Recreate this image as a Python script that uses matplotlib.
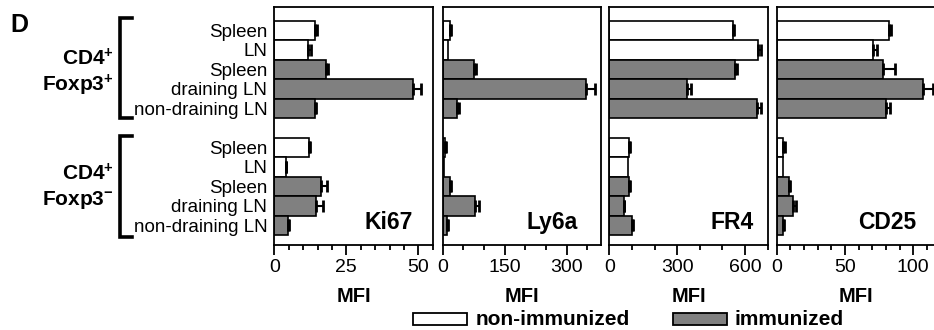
import numpy as np
import matplotlib
matplotlib.use("Agg")
import matplotlib.pyplot as plt
from matplotlib.transforms import blended_transform_factory
from matplotlib.lines import Line2D
from matplotlib.patches import Rectangle

plt.rcParams['font.family'] = ['Liberation Sans', 'DejaVu Sans']
plt.rcParams['mathtext.fontset'] = 'custom'
plt.rcParams['mathtext.rm'] = 'Liberation Sans'
plt.rcParams['mathtext.bf'] = 'Liberation Sans:bold'

# ---- data ----
row_labels = ["Spleen", "LN", "Spleen", "draining LN", "non-draining LN"]
immunized_flag = [False, False, True, True, True]
groups = ["Foxp3+", "Foxp3-"]
markers = ["Ki67", "Ly6a", "FR4", "CD25"]

ki67 = [14.2, 11.6, 17.8, 48.0, 14.1, 11.9, 3.9, 16.3, 14.5, 4.8]
ki67_err = [0.7, 1.0, 0.9, 2.8, 0.5, 0.5, 0.3, 2.1, 2.3, 0.4]
ly6a = [17.7, 12.0, 75, 347, 34.6, 5.0, 3.0, 17.7, 78, 9.7]
ly6a_err = [3, 0, 6, 22, 5, 2, 0, 3, 10, 2]
fr4 = [545, 659, 557, 345, 654, 87, 84, 87, 64, 99]
fr4_err = [7, 12, 9, 15, 17, 6, 0, 4, 3, 6]
cd25 = [82.1, 70.2, 77.8, 107.5, 79.7, 4.6, 4.6, 9.0, 11.7, 4.8]
cd25_err = [1.5, 3.4, 8.8, 6.6, 3.2, 1.7, 0, 1.0, 2.4, 0.6]

values = [ki67, ly6a, fr4, cd25]
errors = [ki67_err, ly6a_err, fr4_err, cd25_err]
xmax = [55, 383, 700, 116]
major_ticks = [[0, 25, 50], [0, 150, 300], [0, 300, 600], [0, 50, 100]]
minor_step = [5, 50, 100, 10]
label_xfrac = [0.725, 0.688, 0.773, 0.70]

GRAY = "#808080"
W, H = 934, 330
fig = plt.figure(figsize=(W / 100, H / 100), dpi=100)

# positions (rows with a gap between groups)
n = len(row_labels)
ypos = []
for g in range(len(groups)):
    ypos += [g * (n + 1) + i for i in range(n)]
ypos = np.array(ypos)
colors = [GRAY if f else "white" for f in immunized_flag] * len(groups)

ax_left = [274.3, 442.7, 609.3, 776.7]
ax_w = 158.4
ax_top, ax_bot = 7.0, 245.0

axes = []
for k, name in enumerate(markers):
    ax = fig.add_axes([ax_left[k] / W, 1 - ax_bot / H, ax_w / W, (ax_bot - ax_top) / H])
    axes.append(ax)
    v = np.array(values[k], float)
    e = np.array(errors[k], float)
    ax.barh(ypos, v, height=1.0, color=colors, edgecolor="black", linewidth=1.2, zorder=2)
    m = e > 0
    ax.errorbar(v[m], ypos[m], xerr=[np.zeros(m.sum()), e[m]], fmt="none",
                ecolor="black", elinewidth=1.5, capsize=4.2, capthick=2.0, zorder=3)
    ax.set_ylim(11.0, -1.2)
    ax.set_xlim(0, xmax[k])
    ax.set_xticks(major_ticks[k])
    ax.set_xticks(np.arange(0, xmax[k] + 0.01, minor_step[k]), minor=True)
    ax.tick_params(axis="x", which="major", length=7, width=1.3, labelsize=14, pad=3)
    ax.tick_params(axis="x", which="minor", length=3.6, width=1.3)
    for s in ax.spines.values():
        s.set_linewidth(1.3)
    if k == 0:
        ax.set_yticks(ypos)
        ax.set_yticklabels(row_labels * len(groups), fontsize=13.5)
        ax.tick_params(axis="y", length=0, pad=5)
    else:
        ax.set_yticks([])
    ax.text(label_xfrac[k], 0.067, name, transform=ax.transAxes, ha="center",
            va="baseline", fontsize=16.5, fontweight="bold")
    tr = blended_transform_factory(ax.transAxes, fig.transFigure)
    ax.text(0.5, 1 - 301.7 / H, "MFI", transform=tr, ha="center", va="baseline",
            fontsize=14.5, fontweight="bold")

ax0 = axes[0]
trg = blended_transform_factory(fig.transFigure, ax0.transData)
group_text = [(r"$\mathbf{CD4^{+}}$", r"$\mathbf{Foxp3^{+}}$"),
              (r"$\mathbf{CD4^{+}}$", r"$\mathbf{Foxp3^{-}}$")]
text_y = [(1.77, 3.14), (7.67, 8.95)]
br_y = [(-0.62, 4.5), (5.4, 10.6)]
for g in range(len(groups)):
    for t, yy in zip(group_text[g], text_y[g]):
        fig.text(114 / W, yy, t, transform=trg, ha="right", va="baseline", fontsize=15)
    y0, y1 = br_y[g]
    xv, xt = 119.5 / W, 132 / W
    fig.add_artist(Line2D([xt, xv, xv, xt], [y0, y0, y1, y1], transform=trg,
                          color="black", lw=2.6, solid_joinstyle="miter"))

fig.text(10 / W, 1 - 31.7 / H, "D", ha="left", va="baseline", fontsize=18, fontweight="bold")

# legend
leg_y0, leg_h = 1 - 325 / H, 11.7 / H
fig.add_artist(Rectangle((413.3 / W, leg_y0), 53.4 / W, leg_h, transform=fig.transFigure,
                         facecolor="white", edgecolor="black", lw=1.3))
fig.add_artist(Rectangle((673.3 / W, leg_y0), 53.4 / W, leg_h, transform=fig.transFigure,
                         facecolor=GRAY, edgecolor="black", lw=1.3))
fig.text(476 / W, 1 - 325 / H, "non-immunized", ha="left", va="baseline", fontsize=15, fontweight="bold")
fig.text(735 / W, 1 - 325 / H, "immunized", ha="left", va="baseline", fontsize=15, fontweight="bold")

fig.savefig("out.png", dpi=100)
